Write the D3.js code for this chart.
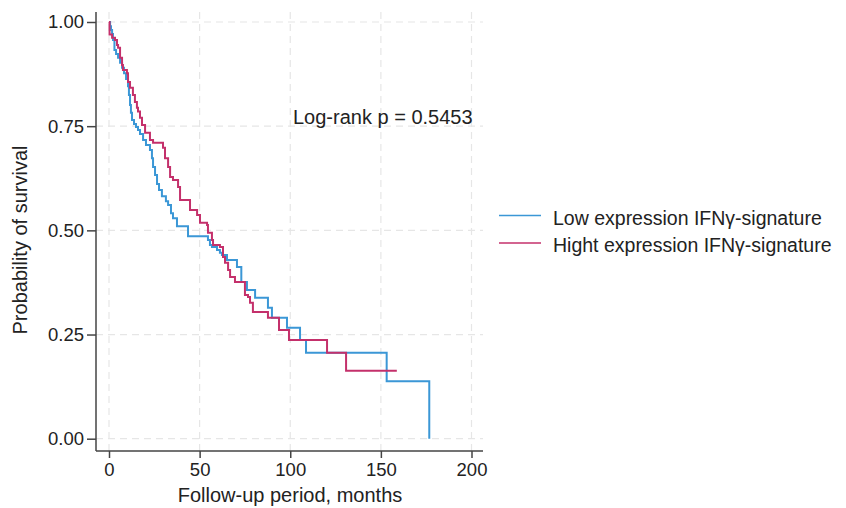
<!DOCTYPE html>
<meta charset="utf-8">
<style>
  body { margin:0; background:#fff; }
  svg text { font-family: "Liberation Sans", Arial, sans-serif; fill:#222; }
  .grid line { stroke:#e6e6e6; stroke-width:1.2px; stroke-dasharray:7,5; }
  .axis path, .axis line { stroke:#444; stroke-width:1.5px; }
  .km { fill:none; stroke-width:2px; }
</style>
<script src="https://d3js.org/d3.v7.min.js"></script>
<div id="chart"></div>
<script>
// follow-up months where survival drops, and survival after that drop
var lowTimes = [0, 0.6, 1.1, 1.7, 2.2, 3.0, 3.9, 5.0, 6.1, 7.2, 8.3, 9.4, 10.5, 11.0, 11.6, 12.1, 12.7,
  13.8, 14.9, 16.0, 17.1, 18.8, 20.4, 22.6, 23.7, 24.3, 25.4, 26.5, 27.6, 29.2, 31.4, 32.6, 34.2, 35.3,
  37.5, 43.6, 54.6, 55.7, 56.8, 59.6, 61.2, 62.3, 65.1, 70.6, 73.0, 76.1, 80.6, 87.7, 89.9, 98.2,
  105.4, 108.7, 153.2, 176.7];
var lowSurv = [1, 0.990, 0.981, 0.971, 0.957, 0.933, 0.923, 0.914, 0.902, 0.890, 0.877, 0.863, 0.846,
  0.825, 0.801, 0.782, 0.765, 0.755, 0.748, 0.741, 0.731, 0.717, 0.705, 0.693, 0.673, 0.652, 0.633,
  0.611, 0.597, 0.582, 0.570, 0.561, 0.541, 0.529, 0.510, 0.486, 0.477, 0.465, 0.460, 0.453, 0.446,
  0.441, 0.429, 0.412, 0.376, 0.357, 0.338, 0.314, 0.290, 0.266, 0.237, 0.206, 0.138, 0];

var highTimes = [0, 0.3, 1.7, 3.3, 4.4, 5.0, 6.1, 7.2, 7.7, 9.9, 10.5, 11.6, 13.2, 14.3, 15.4, 16.0,
  17.1, 18.2, 19.9, 22.6, 24.3, 29.8, 30.9, 32.6, 33.7, 35.3, 38.1, 39.2, 44.7, 48.6, 50.2, 54.1, 54.6,
  56.8, 57.4, 61.2, 62.9, 64.0, 65.7, 66.8, 69.5, 75.0, 76.7, 77.8, 79.4, 87.7, 93.8, 99.3, 120.3,
  130.8, 158.8];
var highSurv = [1, 0.970, 0.962, 0.957, 0.945, 0.938, 0.914, 0.897, 0.885, 0.877, 0.856, 0.842, 0.825,
  0.808, 0.794, 0.785, 0.770, 0.753, 0.734, 0.717, 0.710, 0.698, 0.673, 0.652, 0.628, 0.621, 0.604,
  0.573, 0.549, 0.537, 0.518, 0.513, 0.494, 0.477, 0.465, 0.460, 0.436, 0.422, 0.405, 0.388, 0.376,
  0.345, 0.340, 0.326, 0.304, 0.290, 0.261, 0.237, 0.206, 0.163, 0.163];

var xTicks = [0, 50, 100, 150, 200];
var yTicks = [0, 0.25, 0.5, 0.75, 1];
var groups = ["Low expression IFNγ-signature", "Hight expression IFNγ-signature"];
var colors = ["#3b97d6", "#c4306b"];
var pText = "Log-rank p = 0.5453";

var width = 846, height = 508;

var svg = d3.select("#chart")
  .append("svg")
    .attr("width", width)
    .attr("height", height);

var x = d3.scaleLinear().domain([0, 200]).range([109, 471.5]);
var y = d3.scaleLinear().domain([0, 1]).range([438.7, 22]);

var plotLeft = 96, plotRight = 483, plotTop = 12, plotBottom = 451;

// dashed grid
svg.append("g")
  .attr("class", "grid")
  .selectAll("line.v")
  .data(xTicks)
  .enter().append("line")
    .attr("x1", function(d) { return x(d); })
    .attr("x2", function(d) { return x(d); })
    .attr("y1", plotTop)
    .attr("y2", plotBottom);

svg.append("g")
  .attr("class", "grid")
  .selectAll("line.h")
  .data(yTicks)
  .enter().append("line")
    .attr("x1", plotLeft)
    .attr("x2", plotRight)
    .attr("y1", function(d) { return y(d); })
    .attr("y2", function(d) { return y(d); });

// axes
var xAxis = svg.append("g")
  .attr("class", "axis")
  .attr("transform", "translate(0," + plotBottom + ")")
  .call(d3.axisBottom(x).tickValues(xTicks).tickSize(7).tickPadding(5).tickSizeOuter(0));
xAxis.select(".domain").attr("d", "M" + plotLeft + ",0H" + plotRight);
xAxis.selectAll("text").style("font-size", "18.5px").attr("fill", "#222");

var yAxis = svg.append("g")
  .attr("class", "axis")
  .attr("transform", "translate(" + plotLeft + ",0)")
  .call(d3.axisLeft(y).tickValues(yTicks).tickFormat(d3.format(".2f")).tickSize(9).tickPadding(3).tickSizeOuter(0));
yAxis.select(".domain").attr("d", "M0," + plotTop + "V" + plotBottom);
yAxis.selectAll("text").style("font-size", "18.5px").attr("fill", "#222");

// survival curves
var line = d3.line()
  .x(function(d) { return x(d[0]); })
  .y(function(d) { return y(d[1]); })
  .curve(d3.curveStepAfter);

var curves = [d3.zip(lowTimes, lowSurv), d3.zip(highTimes, highSurv)];

svg.selectAll(".km")
  .data(curves)
  .enter().append("path")
    .attr("class", "km")
    .attr("stroke", function(d, i) { return colors[i]; })
    .attr("d", line);

// titles
svg.append("text")
  .attr("x", 290)
  .attr("y", 502)
  .attr("text-anchor", "middle")
  .style("font-size", "20px")
  .text("Follow-up period, months");

svg.append("text")
  .attr("transform", "translate(27,240) rotate(-90)")
  .attr("text-anchor", "middle")
  .style("font-size", "20px")
  .text("Probability of survival");

svg.append("text")
  .attr("x", 293)
  .attr("y", 123.5)
  .style("font-size", "20px")
  .text(pText);

// legend
var legend = svg.selectAll(".legend")
  .data(groups)
  .enter().append("g")
    .attr("class", "legend")
    .attr("transform", function(d, i) { return "translate(0," + (215.5 + i * 27.5) + ")"; });

legend.append("line")
  .attr("x1", 499)
  .attr("x2", 541)
  .attr("stroke", function(d, i) { return colors[i]; })
  .attr("stroke-width", 1.5);

legend.append("text")
  .attr("x", 553)
  .attr("y", 9)
  .style("font-size", "19.5px")
  .text(function(d) { return d; });
</script>
